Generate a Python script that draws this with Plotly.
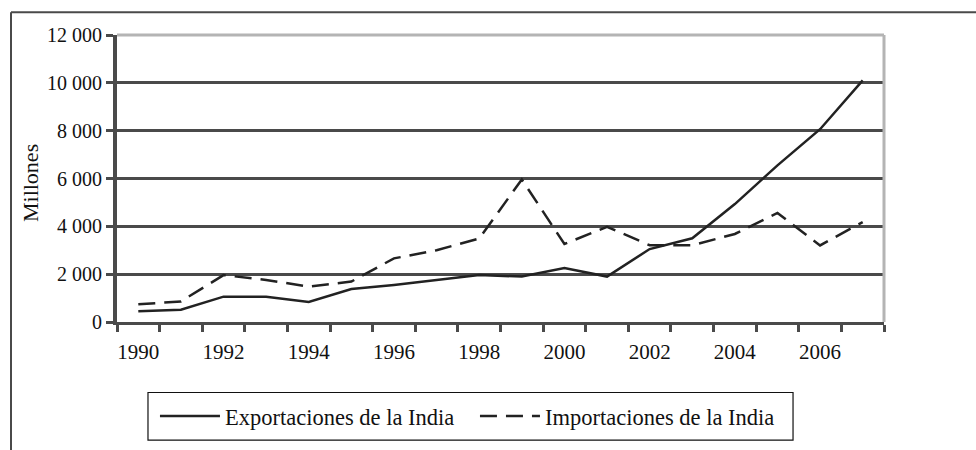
import plotly.graph_objects as go

years = list(range(1990, 2008))
exportaciones = [450, 510, 1060, 1060, 840, 1380, 1550, 1760, 1960, 1900, 2260, 1900, 3050, 3500, 4930, 6550, 8060, 10100]
importaciones = [740, 860, 1960, 1760, 1480, 1690, 2660, 3000, 3490, 5960, 3260, 3980, 3210, 3210, 3680, 4560, 3200, 4180]
x_tick_years = list(range(1990, 2007, 2))
y_ticks = list(range(0, 12001, 2000))

FONT = "Liberation Serif"
DARK = "#4a4a4a"
LIGHT = "#b4b4b4"

fig = go.Figure()
fig.add_trace(go.Scatter(x=years, y=exportaciones, mode="lines",
                         name="Exportaciones de la India",
                         line=dict(color="#222222", width=2.5)))
fig.add_trace(go.Scatter(x=years, y=importaciones, mode="lines",
                         name="Importaciones de la India",
                         line=dict(color="#222222", width=2.5, dash="17px,9px")))

fig.update_layout(
    width=976, height=450,
    margin=dict(l=117, r=92, t=35, b=126),
    paper_bgcolor="white", plot_bgcolor="white",
    font=dict(family=FONT, size=20, color="#111111"),
    separators=". ",
    showlegend=True,
    legend=dict(orientation="h", x=0.0495, xanchor="left", y=-0.3287, yanchor="middle",
                borderwidth=0, bgcolor="rgba(0,0,0,0)", itemwidth=60,
                font=dict(family=FONT, size=22.5, color="#111111"),
                entrywidth=245, entrywidthmode="pixels", tracegroupgap=0),
)

fig.update_xaxes(
    range=[1989.5, 2007.5], tickmode="array", tickvals=x_tick_years,
    ticktext=[str(v) for v in x_tick_years], ticks="", showgrid=False,
    zeroline=False, showline=True, linecolor=DARK, linewidth=3,
    tickfont=dict(family=FONT, size=21), ticklabelstandoff=9,
    minor=dict(tick0=1989.5, dtick=1, ticks="outside", ticklen=7, tickwidth=3,
               tickcolor=DARK, showgrid=False),
)
fig.update_yaxes(
    range=[0, 12000], tickmode="array", tickvals=y_ticks, tickformat=",d",
    ticks="outside", ticklen=7, tickwidth=3, tickcolor=DARK,
    showgrid=True, gridcolor=DARK, gridwidth=3, zeroline=False,
    showline=True, linecolor=DARK, linewidth=4,
    tickfont=dict(family=FONT, size=20),
)

# plot border (top and right, light gray)
fig.add_shape(type="line", xref="x domain", yref="y domain", x0=0, x1=1, y0=1, y1=1,
              line=dict(color=LIGHT, width=3), layer="above")
fig.add_shape(type="line", xref="x domain", yref="y domain", x0=1, x1=1, y0=0, y1=1,
              line=dict(color=LIGHT, width=3), layer="above")

# outer frame (left and top)
fig.add_shape(type="line", xref="paper", yref="paper", x0=-0.1382, x1=-0.1382, y0=1.0796, y1=-0.45,
              line=dict(color=DARK, width=2))
fig.add_shape(type="line", xref="paper", yref="paper", x0=-0.1382, x1=1.2, y0=1.0796, y1=1.0796,
              line=dict(color=DARK, width=2))

# legend box
fig.add_shape(type="rect", xref="paper", yref="paper", x0=0.0404, x1=0.8814, y0=-0.2457, y1=-0.4118,
              line=dict(color="#111111", width=1.2))

# y axis title
fig.add_annotation(text="Millones", xref="paper", yref="paper", x=-0.1135, y=0.484,
                   textangle=-90, showarrow=False, xanchor="center", yanchor="middle",
                   font=dict(family=FONT, size=22, color="#111111"))

fig.write_html("out.html", config={"displayModeBar": False},
               post_script="document.body.style.margin='0px';")
